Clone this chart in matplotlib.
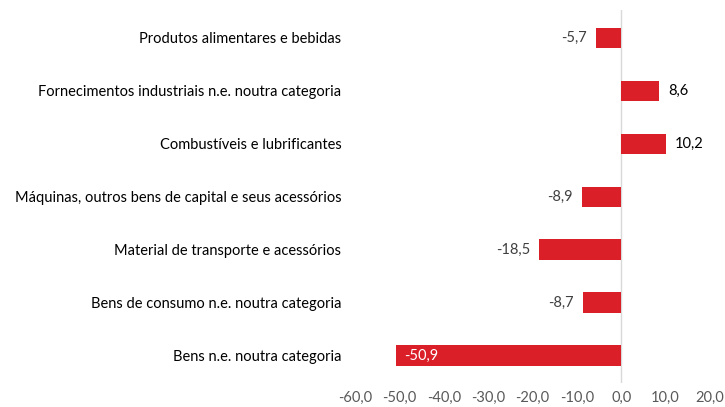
import matplotlib.pyplot as plt

# categories top-to-bottom and their growth rates (%)
categories = [
    "Produtos alimentares e bebidas",
    "Fornecimentos industriais n.e. noutra categoria",
    "Combustíveis e lubrificantes",
    "Máquinas, outros bens de capital e seus acessórios",
    "Material de transporte e acessórios",
    "Bens de consumo n.e. noutra categoria",
    "Bens n.e. noutra categoria",
]
values = [-5.7, 8.6, 10.2, -8.9, -18.5, -8.7, -50.9]
x_ticks = [-60, -50, -40, -30, -20, -10, 0, 10, 20]

plt.rcParams['font.family'] = ['Lato', 'DejaVu Sans']

fig = plt.figure(figsize=(7.25, 4.07), dpi=100)
ax = fig.add_axes([0.49, 0.059, 0.489, 0.916])

ypos = list(range(len(categories)))[::-1]
bar_color = "#DA1F28"
ax.barh(ypos, values, height=0.38, color=bar_color, zorder=2)

ax.axvline(0, color="#D9D9D9", lw=1, zorder=1)

def fmt(v):
    return f"{v:.1f}".replace(".", ",")

for y, v in zip(ypos, values):
    if v < -40:
        ax.text(v + 2, y, fmt(v), ha="left", va="center", color="white", fontsize=10.5)
    elif v < 0:
        ax.text(v - 2, y, fmt(v), ha="right", va="center", color="#404040", fontsize=10.5)
    else:
        ax.text(v + 2, y, fmt(v), ha="left", va="center", color="black", fontsize=10.5)

ax.set_xlim(-60, 20)
ax.set_ylim(-0.52, len(categories) - 0.48)
ax.set_xticks(x_ticks)
ax.set_xticklabels([fmt(t) for t in x_ticks], fontsize=10.5, color="#595959")
ax.set_yticks(ypos)
ax.set_yticklabels(categories, fontsize=10.5, color="black")
ax.tick_params(axis="both", length=0)
ax.tick_params(axis="y", pad=10)
ax.tick_params(axis="x", pad=6)
for s in ax.spines.values():
    s.set_visible(False)

fig.savefig("out.png", dpi=100)
